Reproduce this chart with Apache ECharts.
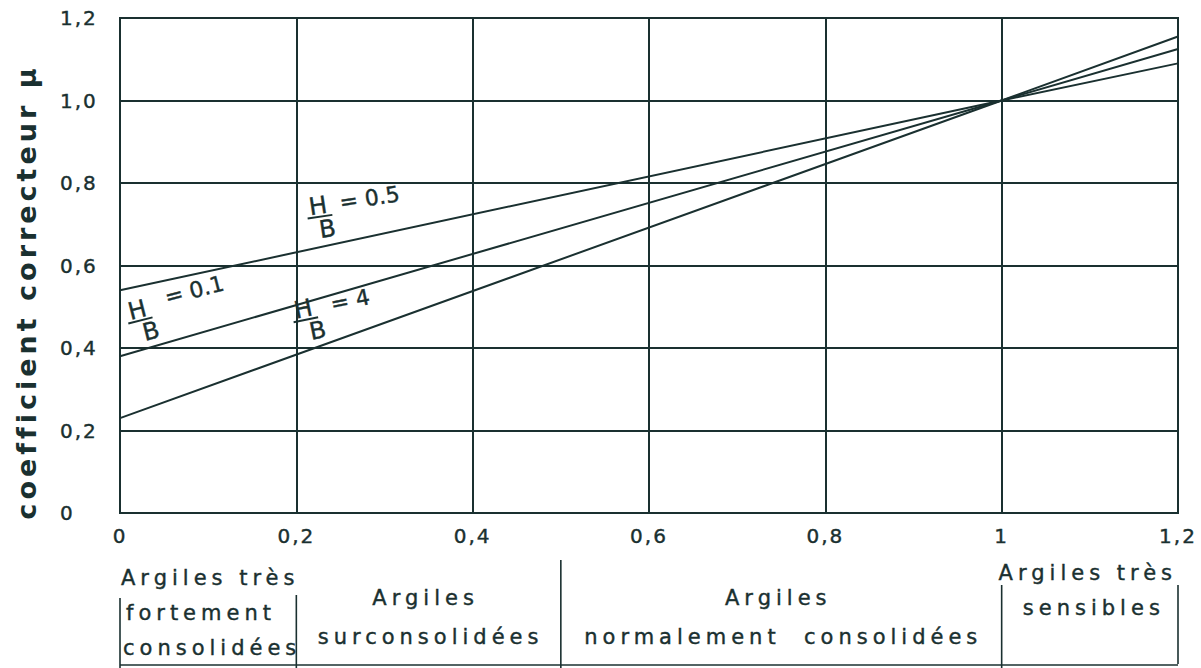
<!DOCTYPE html>
<html>
<head>
<meta charset="utf-8">
<script src="https://cdn.jsdelivr.net/npm/echarts@6/dist/echarts.min.js"></script>
<style>
  html, body { margin: 0; padding: 0; background: #ffffff; }
  #chart { width: 1201px; height: 668px; }
  /* lettering spacing, keyed on font size */
  #chart text[style*="21px"] { letter-spacing: 5px; }
  #chart text[style*="20px"] { letter-spacing: 2px; }
  #chart text[style*="27px"] { letter-spacing: 4px; }
</style>
</head>
<body>
<div id="chart"></div>
<script>
// Correction coefficient mu as a function of the pore-pressure parameter
const xValues = [0, 1, 1.2];
const muHB05 = [0.54, 1.0, 1.09];
const muHB01 = [0.38, 1.0, 1.125];
const muHB4  = [0.23, 1.0, 1.155];
const curveRatios = ['0.5', '0.1', '4'];

const xTickLabels = ['0', '0,2', '0,4', '0,6', '0,8', '1', '1,2'];
const yTickLabels = ['0', '0,2', '0,4', '0,6', '0,8', '1,0', '1,2'];
const yAxisTitle = 'coefficient correcteur μ';

// clay classes along the horizontal axis
const classBounds = [0, 0.2, 0.5, 1.0, 1.2];
const classNames = [
  ['Argiles très', 'fortement', 'consolidées'],
  ['Argiles', 'surconsolidées'],
  ['Argiles', 'normalement  consolidées'],
  ['Argiles très', 'sensibles']
];

const INK = '#1a3030';
const FONT = 'DejaVu Sans';

function pairs(ys) { return xValues.map((x, i) => [x, ys[i]]); }

const chart = echarts.init(document.getElementById('chart'), null, { renderer: 'svg' });

const lineStyle = { color: INK, width: 2 };
const tickLabel = {
  color: INK, fontFamily: FONT, fontSize: 20,
  textBorderColor: INK, textBorderWidth: 0.4
};
chart.setOption({
  backgroundColor: '#ffffff',
  animation: false,
  grid: { left: 120, right: 23, top: 18, bottom: 155, show: true, borderColor: INK, borderWidth: 2 },
  xAxis: {
    type: 'value', min: 0, max: 1.2, interval: 0.2,
    axisLine: { show: true, lineStyle: { color: INK, width: 2 } },
    axisTick: { show: false },
    splitLine: { show: true, lineStyle: { color: INK, width: 2 } },
    axisLabel: Object.assign({ margin: 13, formatter: v => xTickLabels[Math.round(v / 0.2)] }, tickLabel)
  },
  yAxis: {
    type: 'value', min: 0, max: 1.2, interval: 0.2,
    axisLine: { show: true, lineStyle: { color: INK, width: 2 } },
    axisTick: { show: false },
    splitLine: { show: true, lineStyle: { color: INK, width: 2 } },
    axisLabel: Object.assign({ margin: 60, align: 'left', formatter: v => yTickLabels[Math.round(v / 0.2)] }, tickLabel)
  },
  series: [
    { type: 'line', name: 'H/B = 0.5', data: pairs(muHB05), symbol: 'none', lineStyle },
    { type: 'line', name: 'H/B = 0.1', data: pairs(muHB01), symbol: 'none', lineStyle },
    { type: 'line', name: 'H/B = 4',   data: pairs(muHB4),  symbol: 'none', lineStyle }
  ]
});

const px = (x, y) => chart.convertToPixel({ gridIndex: 0 }, [x, y]);
const textStyle = (text, size, extra) => Object.assign(
  { text, fill: INK, stroke: INK, lineWidth: 0.4, font: `${size}px ${FONT}` }, extra || {});

const graphics = [];

// vertical axis title
graphics.push({
  type: 'text', x: 26, y: 292, rotation: Math.PI / 2,
  style: textStyle(yAxisTitle, 27, { font: `bold 27px ${FONT}`, lineWidth: 0, align: 'center', verticalAlign: 'middle' })
});

// H/B fraction labels next to each curve
const labelSpots = [
  { at: [0.2246, 0.742], rot: 0.15, eqX: 22, eqY: -1, bOff: 6 },
  { at: [0.0198, 0.490], rot: 0.25, eqX: 30, eqY: -6, bOff: 8 },
  { at: [0.208, 0.492],  rot: 0.20, eqX: 28, eqY: 0, bOff: 10 }
];
labelSpots.forEach((s, i) => {
  const p = px(s.at[0], s.at[1]);
  graphics.push({
    type: 'group', x: p[0], y: p[1], rotation: s.rot,
    children: [
      { type: 'text', x: 0, y: -1, style: textStyle('H', 24, { align: 'center', verticalAlign: 'middle' }) },
      { type: 'line', shape: { x1: -12, y1: 10, x2: 13, y2: 10 }, style: { stroke: INK, lineWidth: 2 } },
      { type: 'text', x: s.bOff, y: 23, style: textStyle('B', 24, { align: 'center', verticalAlign: 'middle' }) },
      { type: 'text', x: s.eqX, y: s.eqY, style: textStyle('= ' + curveRatios[i], 22, { align: 'left', verticalAlign: 'middle' }) }
    ]
  });
});

// clay class table under the axis
const bx = classBounds.map(b => px(b, 0)[0]);
const rule = (x1, y1, x2, y2) => ({ type: 'line', shape: { x1, y1, x2, y2 }, style: { stroke: INK, lineWidth: 1.6 } });
graphics.push(rule(bx[0], 598, bx[0], 668));
graphics.push(rule(bx[1], 595, bx[1], 668));
graphics.push(rule(bx[2], 560, bx[2], 668));
graphics.push(rule(bx[3], 585, bx[3], 668));
graphics.push(rule(bx[4], 585, bx[4], 664));
graphics.push(rule(bx[0], 665, bx[4], 665));

const tableText = (text, x, y, align) => ({
  type: 'text', x, y, style: textStyle(text, 21, { align, verticalAlign: 'middle' })
});
// first class: left-aligned block
graphics.push(tableText(classNames[0][0], bx[0] + 1, 578, 'left'));
graphics.push(tableText(classNames[0][1], bx[0] + 6, 613, 'left'));
graphics.push(tableText(classNames[0][2], bx[0] + 3, 648, 'left'));
// middle classes: centred between bounds
[1, 2].forEach(k => {
  const cx = (bx[k] + bx[k + 1]) / 2;
  graphics.push(tableText(classNames[k][0], cx - 3, 598, 'center'));
  graphics.push(tableText(classNames[k][1], cx + 2, 637, 'center'));
});
// last class
{
  const cx = (bx[3] + bx[4]) / 2;
  graphics.push(tableText(classNames[3][0], cx - 2, 573, 'center'));
  graphics.push(tableText(classNames[3][1], cx + 4, 608, 'center'));
}

chart.setOption({ graphic: graphics });
</script>
</body>
</html>
